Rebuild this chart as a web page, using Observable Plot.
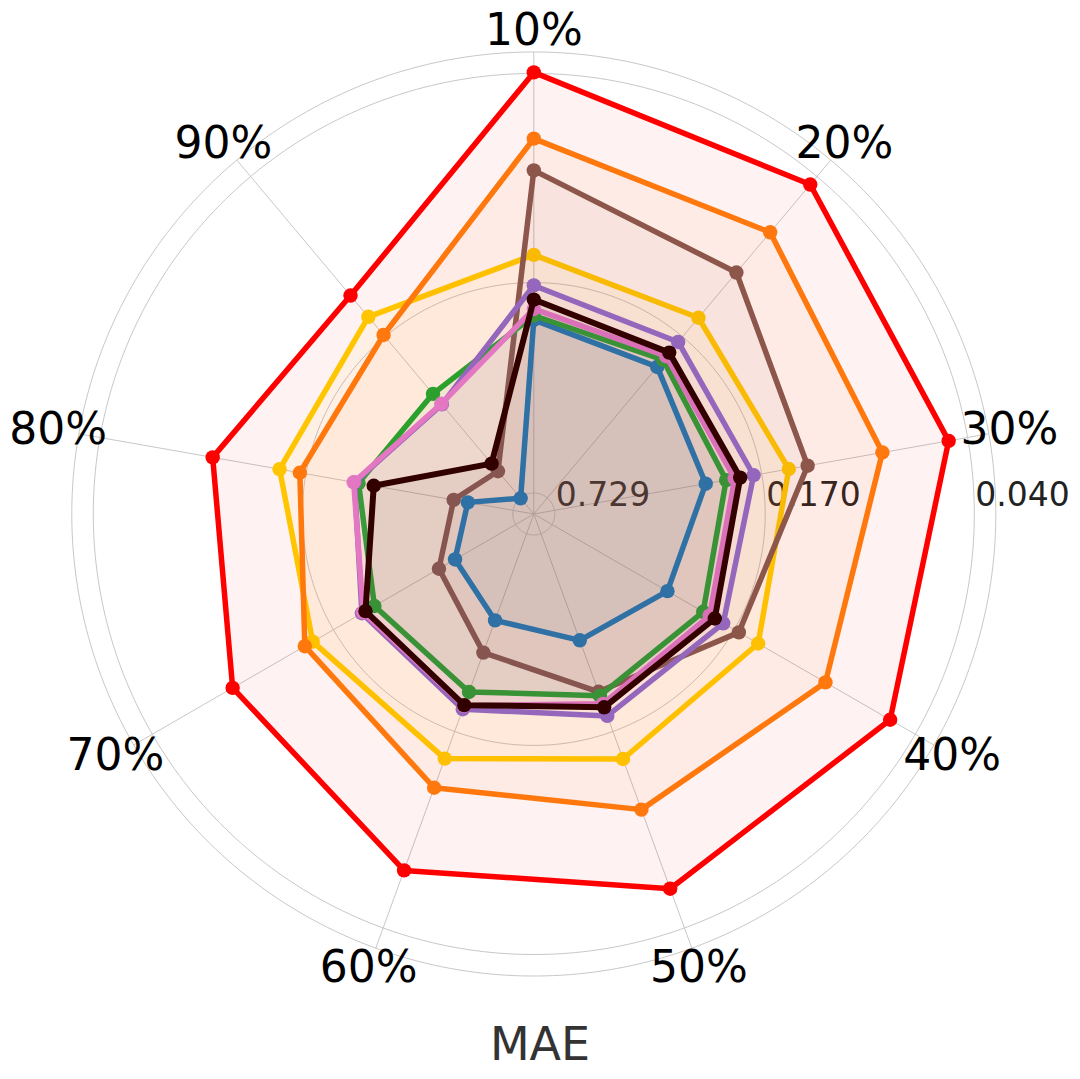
<!DOCTYPE html>
<html><head><meta charset="utf-8">
<script src="https://cdn.jsdelivr.net/npm/d3@7"></script>
<script src="https://cdn.jsdelivr.net/npm/@observablehq/plot@0.6"></script>
<style>
html,body{margin:0;padding:0;background:#fff;}
#chart{width:1080px;height:1010px;}
#caption{width:1080px;text-align:center;font-family:"DejaVu Sans";font-size:46px;color:#333;line-height:66px;padding-top:1px;}
</style></head><body>
<div id="chart"></div>
<div id="caption">MAE</div>
<script>
const categories = ["10%","20%","30%","40%","50%","60%","70%","80%","90%"];
const tickValues = [0.729, 0.170, 0.040];

const redValues    = [0.0397, 0.0430, 0.0457, 0.0489, 0.0534, 0.0611, 0.0760, 0.0883, 0.1172];
const orangeValues = [0.0628, 0.0662, 0.0728, 0.0820, 0.0956, 0.1123, 0.1353, 0.1629, 0.1673];
const brownValues  = [0.0782, 0.0952, 0.1231, 0.1638, 0.2276, 0.3038, 0.3951, 0.4800, 0.5730];
const yellowValues = [0.1403, 0.1432, 0.1405, 0.1404, 0.1388, 0.1392, 0.1441, 0.1413, 0.1420];
const purpleValues = [0.1734, 0.1782, 0.1799, 0.1856, 0.1906, 0.2003, 0.2135, 0.2393, 0.3133];
const darkValues   = [0.1912, 0.1962, 0.1977, 0.1985, 0.2031, 0.2063, 0.2197, 0.2738, 0.5350];
const pinkValues   = [0.2040, 0.2027, 0.2055, 0.2068, 0.2083, 0.2055, 0.2156, 0.2378, 0.3116];
const greenValues  = [0.2135, 0.2095, 0.2182, 0.2178, 0.2212, 0.2274, 0.2360, 0.2461, 0.2848];
const blueValues   = [0.2201, 0.2233, 0.2519, 0.2898, 0.3326, 0.3851, 0.4494, 0.5303, 0.7315];

const series = [
  {values: yellowValues, color: "#ffd000", width: 5.5},
  {values: orangeValues, color: "#ff7f0e", width: 5.5},
  {values: redValues,    color: "#ff0000", width: 5.5},
  {values: brownValues,  color: "#8c564b", width: 5.5},
  {values: blueValues,   color: "#1f77b4", width: 5.5},
  {values: greenValues,  color: "#2ca02c", width: 5.5},
  {values: purpleValues, color: "#9467bd", width: 5.5},
  {values: pinkValues,   color: "#e377c2", width: 5.5},
  {values: darkValues,   color: "#330000", width: 6}
];

// radial scale (degrees of arc in the azimuthal projection; 1px = 0.001°)
const radius = d3.scaleLog().domain([0.729, 0.040]).range([0.021, 0.4405]);
const rMax = 0.462;
const lon = (i) => 180 - 40 * i;
const lat = (v) => 90 - radius(v);
const fmt = d3.format(".3f");

const marks = [
  Plot.geo(tickValues, {
    geometry: (v) => d3.geoCircle().center([0, 90]).radius(radius(v)).precision(1)(),
    stroke: "#c8c8c8", strokeWidth: 1, fill: "none"
  }),
  Plot.geo([rMax], {
    geometry: (r) => d3.geoCircle().center([0, 90]).radius(r).precision(1)(),
    stroke: "#c8c8c8", strokeWidth: 1, fill: "none"
  }),
  Plot.link(categories, {
    x1: (d, i) => lon(i), y1: 90 - rMax, x2: 0, y2: 90,
    stroke: "#c8c8c8", strokeWidth: 1
  }),
  Plot.text(tickValues, {
    x: 90, y: (v) => lat(v), text: (v) => fmt(v),
    textAnchor: "start", lineAnchor: "middle", dx: 1, dy: -19,
    fontSize: 33, fill: "#222"
  })
];

for (const s of series) {
  const rows = s.values.map((v, i) => ({i, v}));
  marks.push(
    Plot.area(rows, {
      x1: (d) => lon(d.i), y1: (d) => lat(d.v), x2: 0, y2: 90,
      fill: s.color, fillOpacity: 0.05, curve: "linear-closed"
    }),
    Plot.line(rows, {
      x: (d) => lon(d.i), y: (d) => lat(d.v),
      stroke: s.color, strokeWidth: s.width, curve: "linear-closed", strokeLinejoin: "round"
    }),
    Plot.dot(rows, {
      x: (d) => lon(d.i), y: (d) => lat(d.v),
      fill: s.color, r: 7.2, stroke: "none"
    })
  );
}

marks.push(
  Plot.text(categories, {
    x: (d, i) => lon(i), y: 90 - 0.483, text: (d) => d,
    textAnchor: "middle", lineAnchor: "middle",
    fontSize: 44, fill: "black"
  })
);

const Rf = 0.49;
const chart = Plot.plot({
  width: 1080,
  height: 1010,
  marginLeft: 533.3 - 490,
  marginRight: 1080 - 533.3 - 490,
  marginTop: 513.5 - 490,
  marginBottom: 1010 - 513.5 - 490,
  projection: {
    type: "azimuthal-equidistant",
    rotate: [0, -90],
    domain: d3.geoCircle().center([0, 90]).radius(Rf).precision(1)()
  },
  style: {fontFamily: "DejaVu Sans", background: "white", overflow: "visible"},
  marks
});
document.getElementById("chart").appendChild(chart);
</script></body></html>
